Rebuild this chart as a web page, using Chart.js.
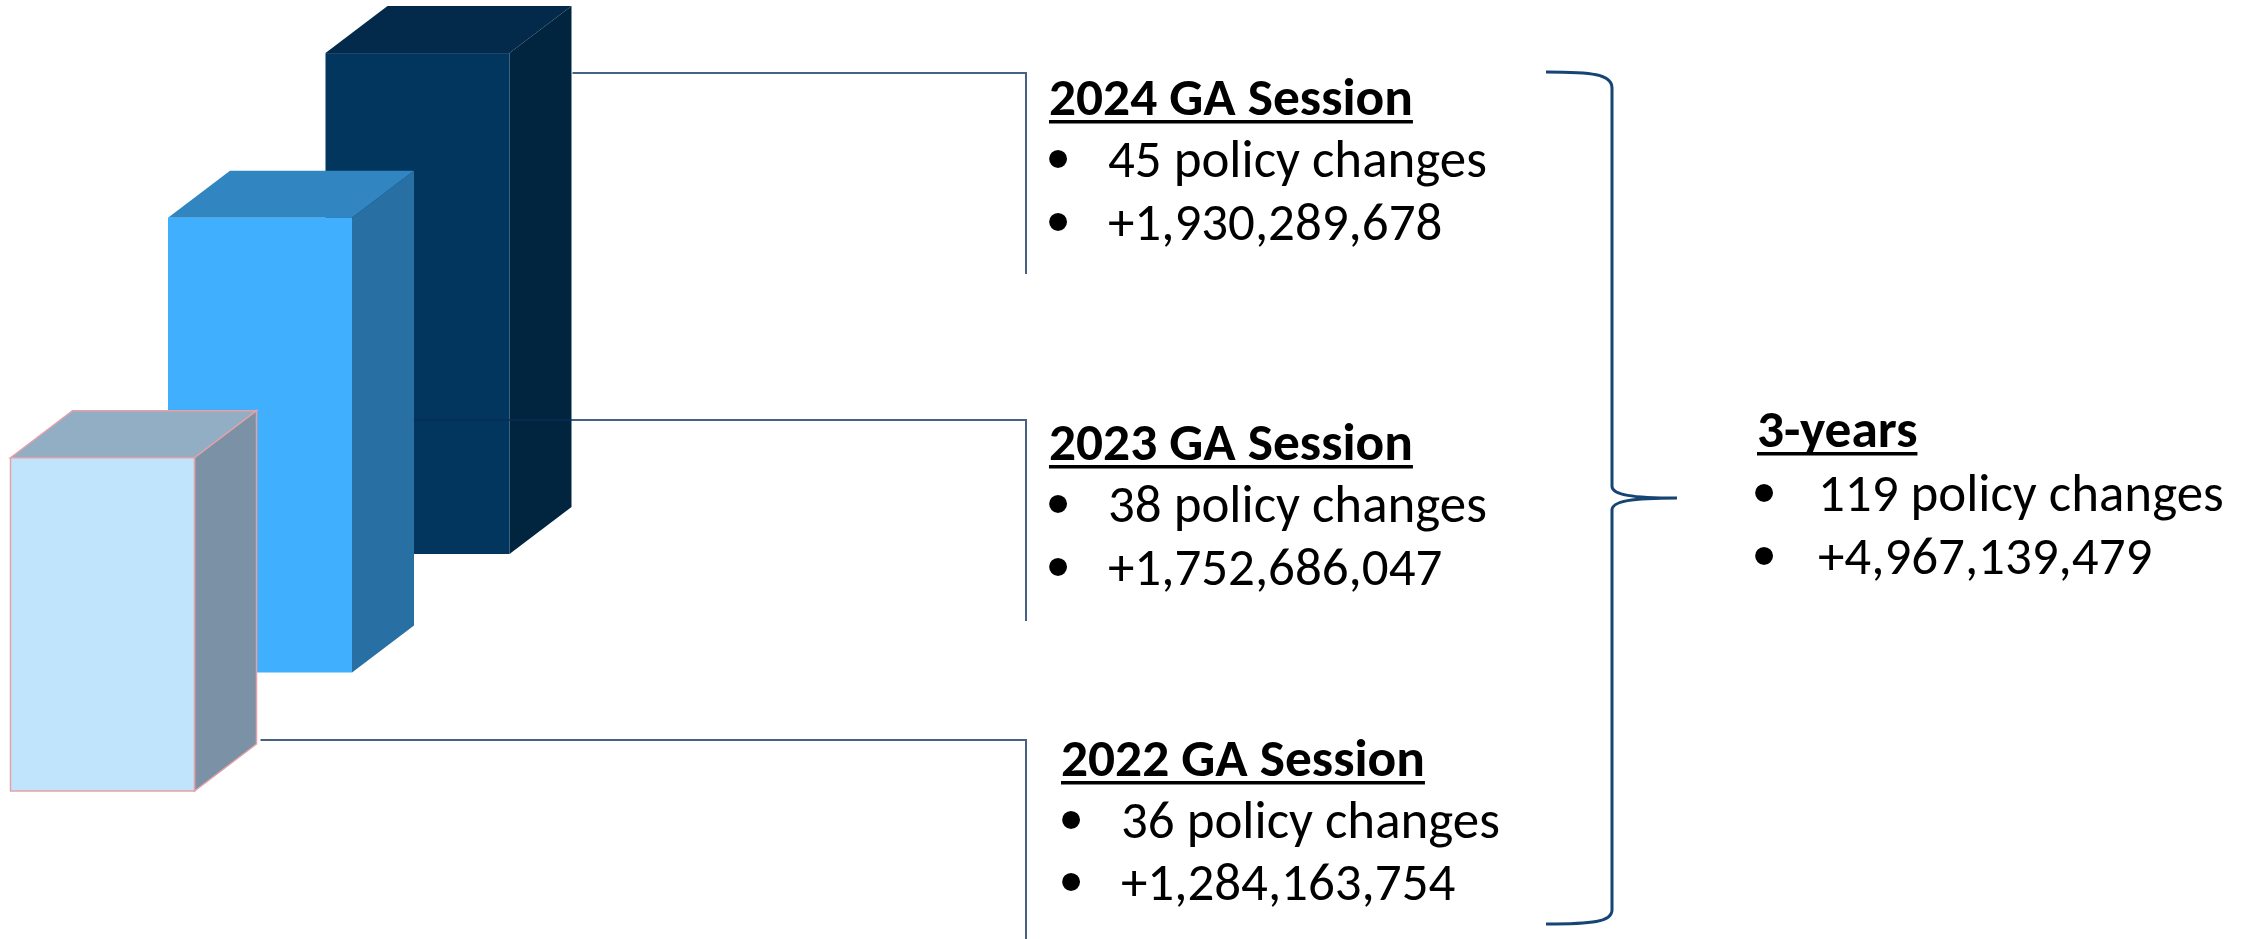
<!DOCTYPE html>
<html><head><meta charset="utf-8">
<script src="https://cdn.jsdelivr.net/npm/chart.js@4.4.1/dist/chart.umd.min.js"></script>
<style>html,body{margin:0;padding:0;background:#fff;overflow:hidden}#wrap{position:relative;width:2251px;height:939px}</style>
</head><body><div id="wrap"><canvas id="c" width="2251" height="939"></canvas></div>
<script>
// ---- data ----
const years = ['2022', '2023', '2024'];
const sessionTitles = ['2022 GA Session', '2023 GA Session', '2024 GA Session'];
const policyChanges = [36, 38, 45];
const fiscalImpact = [1284163754, 1752686047, 1930289678];
const totalTitle = '3-years';
const totalPolicyChanges = 119;
const totalImpact = 4967139479;
const yAxisRange = [0, 3000000000];

// ---- styles / layout ----
const FONT = "Carlito, Lato, 'Open Sans', sans-serif";
const faces = [
  {front: '#c0e4fc', top: '#91aec4', side: '#7b91a5', edge: '#e6a0a8'},
  {front: '#40b0fe', top: '#3185c1', side: '#286fa3', edge: null},
  {front: '#02365e', top: '#032a4b', side: '#01243f', edge: null}
];
const DEPTH = {dx: 62, dy: -47};
const ROW_SHIFT = -118.5;
const connectorY = [740, 420, 73];
const connectorEndY = [939, 621, 274];
const connectorX = 1026;
const blocks = [
  {tx: 1061, bx: 1071, x: 1121, base: [776, 838, 900]},
  {tx: 1049, bx: 1058, x: 1108, base: [460, 522, 585]},
  {tx: 1049, bx: 1058, x: 1108, base: [115, 177, 240]}
];
const totalBlock = {tx: 1757, bx: 1764, x: 1818, base: [447, 511, 574]};
const fmt = v => '+' + v.toLocaleString('en-US');

function measure(ctx, font, txt) { ctx.save(); ctx.font = font; const w = ctx.measureText(txt).width; ctx.restore(); return w; }

const cube3d = {
  id: 'cube3d',
  beforeDatasetDraw() { return false; },
  afterDatasetsDraw(chart) {
    const ctx = chart.ctx;
    const meta = chart.getDatasetMeta(0);
    const n = meta.data.length;
    const geo = [];
    for (let i = n - 1; i >= 0; i--) {
      const el = meta.data[i];
      const p = el.getProps(['x', 'y', 'base', 'width'], true);
      const s = i * ROW_SHIFT;
      const L = p.x - p.width / 2, R = p.x + p.width / 2, T = p.y + s, B = p.base + s;
      const f = faces[i], dx = DEPTH.dx, dy = DEPTH.dy;
      geo[i] = {L: L, R: R + dx};
      ctx.save();
      ctx.lineJoin = 'miter';
      ctx.beginPath(); ctx.moveTo(L, T); ctx.lineTo(L + dx, T + dy); ctx.lineTo(R + dx, T + dy); ctx.lineTo(R, T); ctx.closePath();
      ctx.fillStyle = f.top; ctx.fill();
      if (f.edge) { ctx.strokeStyle = f.edge; ctx.lineWidth = 1.5; ctx.stroke(); }
      ctx.beginPath(); ctx.moveTo(R, T); ctx.lineTo(R + dx, T + dy); ctx.lineTo(R + dx, B + dy); ctx.lineTo(R, B); ctx.closePath();
      ctx.fillStyle = f.side; ctx.fill();
      if (f.edge) { ctx.strokeStyle = f.edge; ctx.lineWidth = 1.5; ctx.stroke(); }
      ctx.fillStyle = f.front; ctx.fillRect(L, T, R - L, B - T);
      if (f.edge) { ctx.strokeStyle = f.edge; ctx.lineWidth = 1.5; ctx.strokeRect(L, T, R - L, B - T); }
      ctx.restore();
      // connector of the bar behind (drawn over this bar's neighbour, under the next front bar)
      if (i === n - 1) {
        ctx.save();
        ctx.strokeStyle = 'rgba(8,44,88,0.75)';
        ctx.lineWidth = 2;
        for (let k = n - 1; k >= 0; k--) {
          if (k === 0) continue;
          const startX = k === n - 1 ? R + dx + 1 : (meta.data[k].x + meta.data[k].width / 2 + dx - 3);
          ctx.beginPath();
          ctx.moveTo(startX, connectorY[k]);
          ctx.lineTo(connectorX, connectorY[k]);
          ctx.lineTo(connectorX, connectorEndY[k]);
          ctx.stroke();
        }
        ctx.restore();
      }
    }
    ctx.save();
    ctx.strokeStyle = 'rgba(8,44,88,0.75)';
    ctx.lineWidth = 2;
    ctx.beginPath();
    ctx.moveTo(geo[0].R + 4, connectorY[0]);
    ctx.lineTo(connectorX, connectorY[0]);
    ctx.lineTo(connectorX, connectorEndY[0]);
    ctx.stroke();
    ctx.restore();
  },
  afterDraw(chart) {
    const ctx = chart.ctx;
    const tSize = 100 * 364 / measure(ctx, `bold 100px ${FONT}`, '2024 GA Session');
    const bSize = 100 * 379 / measure(ctx, `100px ${FONT}`, '45 policy changes');
    const drawBlock = (b, title, l1, l2) => {
      ctx.save();
      ctx.fillStyle = '#000';
      ctx.textBaseline = 'alphabetic';
      ctx.textAlign = 'left';
      ctx.font = `bold ${tSize}px ${FONT}`;
      ctx.fillText(title, b.tx, b.base[0]);
      const w = ctx.measureText(title).width;
      ctx.fillRect(b.tx, b.base[0] + 5, w, 3.5);
      ctx.font = `${bSize}px ${FONT}`;
      ctx.fillText(l1, b.x, b.base[1]);
      ctx.fillText(l2, b.x, b.base[2]);
      ctx.font = `${bSize * 1.25}px 'Liberation Sans', Arial, sans-serif`;
      ctx.textAlign = 'center';
      ctx.textBaseline = 'middle';
      ctx.fillText('\u2022', b.bx, b.base[1] - 14);
      ctx.fillText('\u2022', b.bx, b.base[2] - 14);
      ctx.restore();
    };
    for (let i = 0; i < years.length; i++) {
      drawBlock(blocks[i], sessionTitles[i], `${policyChanges[i]} policy changes`, fmt(fiscalImpact[i]));
    }
    drawBlock(totalBlock, totalTitle, `${totalPolicyChanges} policy changes`, fmt(totalImpact));
    ctx.save();
    ctx.strokeStyle = '#164574';
    ctx.lineWidth = 3;
    ctx.beginPath();
    ctx.moveTo(1546, 72);
    ctx.bezierCurveTo(1592, 72, 1612, 74, 1612, 88);
    ctx.lineTo(1612, 486);
    ctx.bezierCurveTo(1612, 495, 1632, 498, 1677, 498);
    ctx.bezierCurveTo(1632, 498, 1612, 501, 1612, 510);
    ctx.lineTo(1612, 910);
    ctx.bezierCurveTo(1612, 922, 1592, 924, 1546, 924);
    ctx.stroke();
    ctx.restore();
  }
};

new Chart(document.getElementById('c'), {
  type: 'bar',
  data: {
    labels: years,
    datasets: [{label: 'Fiscal impact', data: fiscalImpact, backgroundColor: faces.map(f => f.front), barThickness: 184}]
  },
  options: {
    responsive: false,
    animation: false,
    layout: {padding: {left: 23.75, right: 1754.75, top: 12.5, bottom: 148}},
    plugins: {legend: {display: false}, tooltip: {enabled: false}},
    scales: {
      x: {display: false, offset: true},
      y: {display: false, min: yAxisRange[0], max: yAxisRange[1]}
    }
  },
  plugins: [cube3d]
});
</script></body></html>
